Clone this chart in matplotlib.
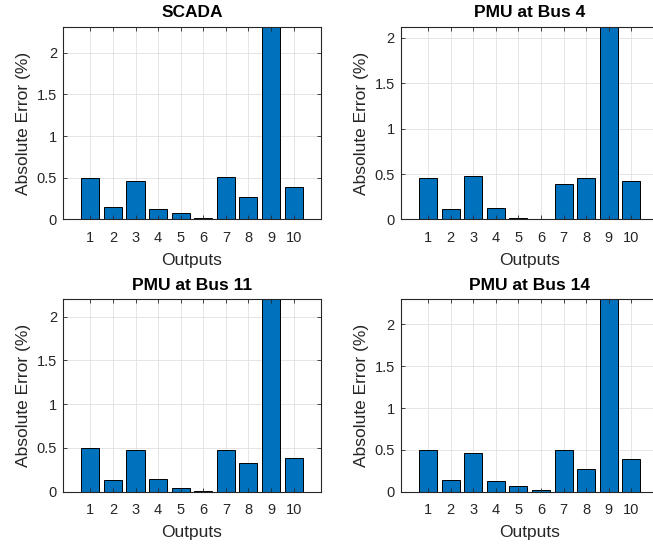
import matplotlib
matplotlib.use("Agg")
import matplotlib.pyplot as plt
import numpy as np

# absolute error per output for each measurement configuration
outputs = np.arange(1, 11)
titles = ["SCADA", "PMU at Bus 4", "PMU at Bus 11", "PMU at Bus 14"]
scada = [0.500, 0.148, 0.459, 0.124, 0.076, 0.016, 0.506, 0.267, 2.31, 0.390]
pmu_bus4 = [0.455, 0.114, 0.477, 0.129, 0.015, 0.010, 0.385, 0.455, 2.12, 0.418]
pmu_bus11 = [0.494, 0.137, 0.479, 0.148, 0.046, 0.011, 0.479, 0.331, 2.20, 0.388]
pmu_bus14 = [0.495, 0.143, 0.460, 0.123, 0.071, 0.015, 0.500, 0.274, 2.30, 0.393]
yticks = [0, 0.5, 1, 1.5, 2]
ytick_labels = ["0", "0.5", "1", "1.5", "2"]

plt.rcParams["font.family"] = ["Liberation Sans", "DejaVu Sans"]
txt = "#262626"

fig = plt.figure(figsize=(6.53, 5.46), dpi=100)

# [left, bottom, width, height] in figure fractions
positions = [
    [0.0969, 0.598, 0.3942, 0.3531],
    [0.6141, 0.598, 0.3942, 0.3531],
    [0.0969, 0.0995, 0.3942, 0.3524],
    [0.6141, 0.0995, 0.3942, 0.3524],
]
series = [scada, pmu_bus4, pmu_bus11, pmu_bus14]

for pos, title, vals in zip(positions, titles, series):
    ax = fig.add_axes(pos)
    # grid drawn by hand so it sits under the bars while ticks stay on top
    for x in outputs:
        ax.axvline(x, color="#e0e0e0", lw=0.6, zorder=0.2)
    for y in yticks:
        ax.axhline(y, color="#e0e0e0", lw=0.6, zorder=0.2)
    ax.bar(outputs, vals, width=0.8, color="#0072BD",
           edgecolor="black", linewidth=0.7, zorder=1)
    ax.set_xlim(-0.2, 11.2)
    ax.set_ylim(0, max(vals))
    ax.set_xticks(outputs)
    ax.set_yticks(yticks)
    ax.set_yticklabels(ytick_labels)
    ax.tick_params(direction="in", top=True, right=True, length=2.8,
                   width=0.6, colors=txt, labelsize=10.5)
    ax.tick_params(axis="x", pad=8.2)
    ax.tick_params(axis="y", pad=4.5)
    for sp in ax.spines.values():
        sp.set_color(txt)
        sp.set_linewidth(0.8)
    ax.set_xlabel("Outputs", fontsize=12.5, color=txt, labelpad=5.5)
    ax.set_ylabel("Absolute Error (%)", fontsize=12.5, color=txt, labelpad=4)
    ax.set_title(title, fontsize=12.5, fontweight="bold", color="black", pad=6.8)

fig.savefig("out.png", dpi=100)
